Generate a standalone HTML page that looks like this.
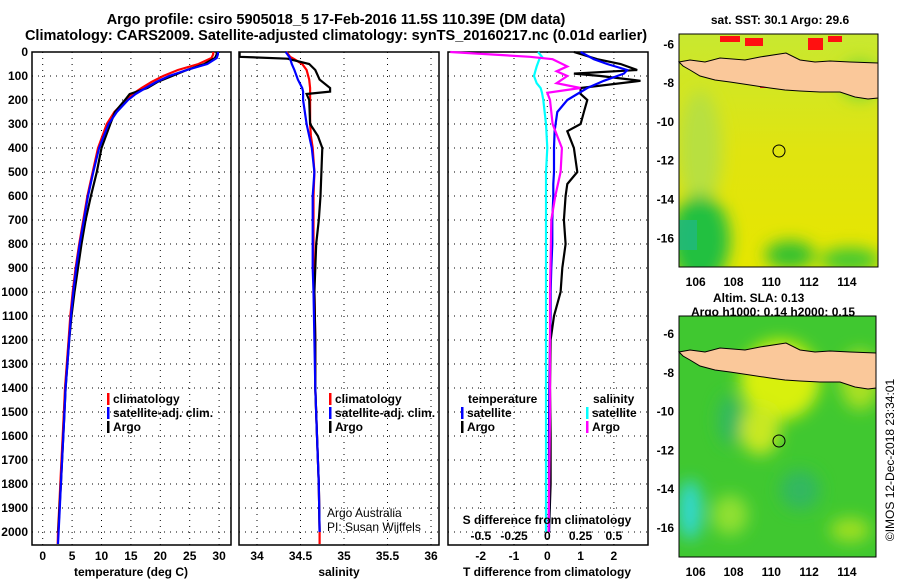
<!DOCTYPE html>
<html><head><meta charset="utf-8"><style>
body{margin:0;background:#fff}
svg{display:block}
text{font-family:"Liberation Sans",sans-serif}
.b{font-weight:bold;font-size:14.5px}
.t{font-weight:bold;font-size:12px}
</style></head><body>
<svg id="s" width="900" height="580" xmlns="http://www.w3.org/2000/svg">
<defs>
<linearGradient id="sstg" x1="0" y1="0" x2="0" y2="1">
<stop offset="0" stop-color="#c8e830"/><stop offset="0.5" stop-color="#e0e410"/><stop offset="1" stop-color="#e6e600"/>
</linearGradient>
<filter id="bl"><feGaussianBlur stdDeviation="8"/></filter>
<clipPath id="c1"><rect x="679" y="34" width="199" height="233"/></clipPath>
<clipPath id="c2"><rect x="679" y="316" width="197" height="241"/></clipPath>
</defs>
<text class="b" x="336" y="24" text-anchor="middle">Argo profile: csiro 5905018_5 17-Feb-2016 11.5S 110.39E (DM data)</text>
<text class="b" x="336" y="40" text-anchor="middle">Climatology: CARS2009. Satellite-adjusted climatology: synTS_20160217.nc (0.01d earlier)</text>

<g>
<text class="t" x="780" y="24" text-anchor="middle">sat. SST: 30.1 Argo: 29.6</text>
<g clip-path="url(#c1)">
<rect x="679" y="34" width="199" height="233" fill="url(#sstg)"/>
<g filter="url(#bl)">
<ellipse cx="700" cy="150" rx="22" ry="60" fill="#b8e040"/>
<ellipse cx="700" cy="240" rx="30" ry="45" fill="#20c040"/>
<ellipse cx="790" cy="255" rx="25" ry="14" fill="#30c030"/>
<ellipse cx="850" cy="260" rx="30" ry="12" fill="#40c830"/>
<ellipse cx="860" cy="80" rx="20" ry="20" fill="#80d830"/>
</g>
<rect x="679" y="220" width="18" height="30" fill="#20b880" opacity="0.8"/>
<rect x="720" y="36" width="20" height="6" fill="#ff1010"/>
<rect x="745" y="38" width="18" height="8" fill="#ff1010"/>
<rect x="808" y="38" width="15" height="12" fill="#ff1010"/>
<rect x="828" y="36" width="14" height="6" fill="#ff1010"/>
<rect x="760" y="80" width="15" height="8" fill="#ff1010"/>
</g>
<polygon points="679,62 690,60 705,62 720,58 745,60 760,57 786,53 800,60 815,62 830,61 850,62 878,63 878,98 868,99 855,97 840,92 820,92 800,91 785,90 770,88 750,85 730,82 715,80 700,76 690,70 683,66" fill="#fac89a" stroke="#000" stroke-width="1"/>
<circle cx="779" cy="151" r="6" fill="none" stroke="#000"/>
<rect x="679" y="34" width="199" height="233" fill="none" stroke="#000"/>
</g>
<text class="t" x="713" y="302">Altim. SLA: 0.13</text>
<text class="t" x="691" y="316">Argo h1000: 0.14 h2000: 0.15</text>

<g>
<g clip-path="url(#c2)">
<rect x="679" y="316" width="197" height="241" fill="#40c830"/>
<g filter="url(#bl)">
<ellipse cx="780" cy="380" rx="40" ry="40" fill="#d8f010"/>
<ellipse cx="760" cy="430" rx="20" ry="25" fill="#c8e820"/>
<ellipse cx="860" cy="380" rx="20" ry="30" fill="#a8e020"/>
<ellipse cx="690" cy="510" rx="12" ry="30" fill="#30d8d0"/>
<ellipse cx="730" cy="515" rx="18" ry="20" fill="#90e030"/>
<ellipse cx="850" cy="530" rx="20" ry="12" fill="#a0e020"/>
<ellipse cx="800" cy="490" rx="20" ry="20" fill="#30b860"/>
<ellipse cx="730" cy="420" rx="12" ry="25" fill="#30b860"/>
</g>
</g>
<polygon points="679,352 690,350 705,352 720,348 745,350 760,347 786,343 800,350 815,352 830,351 850,352 876,353 876,388 868,389 855,387 840,382 820,382 800,381 785,380 770,378 750,375 730,372 715,370 700,366 690,360 683,356" fill="#fac89a" stroke="#000" stroke-width="1"/>
<circle cx="779" cy="441" r="6" fill="none" stroke="#000"/>
<rect x="679" y="316" width="197" height="241" fill="none" stroke="#000"/>
</g>
<text x="894" y="460" font-size="12" text-anchor="middle" transform="rotate(-90 894 460)">©IMOS 12-Dec-2018 23:34:01</text>
<g id="g"></g>
</svg>
<script>
const depths=[0,10,25,50,75,100,125,150,175,200,250,300,400,500,600,700,800,900,1000,1100,1200,1300,1400,1500,1600,1700,1800,1900,2000,2050];
const tClim=[29.0,29.0,28.7,26.5,23,20.5,18.5,16.8,15.3,14.2,12.2,10.9,9.4,8.5,7.6,6.9,6.2,5.6,5.1,4.7,4.4,4.1,3.8,3.6,3.4,3.2,3.0,2.8,2.6,2.55];
const tSat=[29.8,29.8,29.6,28,24.5,21.5,19.3,17.5,15.8,14.5,12.6,11.2,9.6,8.6,7.7,7.0,6.3,5.7,5.2,4.8,4.5,4.2,3.9,3.7,3.5,3.3,3.1,2.9,2.7,2.6];
const tArgo=[29.6,29.6,29.3,27.5,24.5,22,19.5,17.8,14.8,14.0,12.3,11.5,10.0,9.2,8.2,7.3,6.6,6.0,5.4,4.9,4.5,4.2,3.9,3.7,3.5,3.3,3.1,2.85,2.65];
const sDepths=[0,20,28,50,75,115,150,165,175,200,300,350,400,500,600,700,800,900,1000,1200,1400,1600,1800,2000,2050];
const sClim=[34.34,34.38,34.42,34.52,34.57,34.6,34.61,34.61,34.61,34.61,34.61,34.62,34.64,34.66,34.65,34.65,34.65,34.65,34.66,34.67,34.67,34.69,34.71,34.72,34.72];
const sSat=[34.33,34.37,34.38,34.4,34.43,34.47,34.52,34.53,34.53,34.53,34.57,34.6,34.63,34.66,34.64,34.64,34.64,34.64,34.65,34.66,34.67,34.69,34.71,34.72];
const sArgo=[33.8,33.8,34.35,34.6,34.67,34.72,34.84,34.84,34.57,34.6,34.61,34.7,34.75,34.74,34.73,34.71,34.68,34.67,34.66,34.67,34.67,34.69,34.71,34.72];
const dDepths=[0,30,50,75,90,100,120,150,175,200,250,300,330,400,500,550,600,700,800,900,1000,1100,1200,1400,1600,1800,2000];
const tdArgo=[0.8,1.5,2.2,2.7,0.8,1.6,2.8,1.0,1.0,1.2,1.1,1.0,0.6,0.8,0.9,0.6,0.55,0.5,0.55,0.45,0.4,0.2,0.1,0.08,0.1,0.1,0.05];
const tdSat=[1.0,1.4,1.8,2.4,2.3,2.1,1.7,1.2,0.9,0.6,0.3,0.25,0.22,0.2,0.2,0.18,0.18,0.15,0.15,0.12,0.1,0.1,0.08,0.06,0.05,0.05,0.05];
const sdDepths=[0,20,30,60,80,100,130,150,170,200,300,400,500,600,700,1000,1500,2000];
const sdArgo=[-0.73,-0.13,0.04,0.15,0.07,0.15,0.07,0.25,0.0,0.02,0.04,0.11,0.10,0.06,0.03,0.02,0.02,0.01];
const sdSat=[-0.07,-0.04,-0.06,-0.08,-0.09,-0.1,-0.08,-0.05,-0.04,-0.03,-0.01,0.0,-0.01,-0.01,-0.01,-0.01,-0.01,-0.01];
const yTicks=[0,100,200,300,400,500,600,700,800,900,1000,1100,1200,1300,1400,1500,1600,1700,1800,1900,2000];
const tTicks=[0,5,10,15,20,25,30];
const sTicks=[34,34.5,35,35.5,36];
const tdTicks=[-2,-1,0,1,2];
const sdTicks=[-0.5,-0.25,0,0.25,0.5];
const mapLon=[106,108,110,112,114];
const mapLatTop=[-6,-8,-10,-12,-14,-16];

const NS='http://www.w3.org/2000/svg';
const G=document.getElementById('g');
function el(tag,a,txt){const e=document.createElementNS(NS,tag);for(const k in a)e.setAttribute(k,a[k]);if(txt!==undefined)e.textContent=txt;G.appendChild(e);return e;}
const Y=d=>52+d*0.24;
const TOP=52,BOT=545;
const xT=v=>42.7+5.88*v;
const xS=v=>257+87*(v-34);
const xTD=v=>547.3+33.3*v;
const xSD=v=>547.3+133*v;
const panels=[[32,231],[239,439],[448,648]];

function frame(p,name){
  const [l,r]=panels[p];
  for(const d of yTicks){
    const g=el('line',{x1:l,x2:r,y1:Y(d),y2:Y(d),stroke:'#000','stroke-dasharray':'1,5','stroke-width':1});
    
    
  }
  const f=el('rect',{x:l,y:TOP,width:r-l,height:BOT-TOP,fill:'none',stroke:'#000','stroke-width':1.5});
  
  
}
function vgrid(ticks,fx){for(const t of ticks){const g=el('line',{x1:fx(t),x2:fx(t),y1:TOP,y2:BOT,stroke:'#000','stroke-dasharray':'1,5'});}}
function xlabels(ticks,fx,y,name){for(const t of ticks){const e=el('text',{x:fx(t),y:y,'text-anchor':'middle',class:'t'},String(t));}}
function line(dep,vals,fx,col,name,w){
  const n=Math.min(dep.length,vals.length);
  let pts=[];for(let i=0;i<n;i++)pts.push(fx(vals[i]).toFixed(1)+','+Y(dep[i]).toFixed(1));
  const e=el('polyline',{points:pts.join(' '),fill:'none',stroke:col,'stroke-width':w||2.2});
  
  
}
function leg(x,y,col,txt,name){
  const b=el('rect',{x:x,y:y-10,width:2.5,height:12,fill:col});
  
  
  const t=el('text',{x:x+6,y:y,class:'t'},txt);
  
  
}
frame(0,'temperature-panel');vgrid(tTicks,xT);
for(const d of yTicks){const e=el('text',{x:28,y:Y(d)+4,'text-anchor':'end',class:'t'},d);}
line(depths,tClim,xT,'#ff0000','temp-climatology-line');
line(depths,tArgo,xT,'#000000','temp-argo-line');
line(depths,tSat,xT,'#0000ff','temp-satellite-line');
xlabels(tTicks,xT,560,'temp-tick-label');
let e=el('text',{x:131,y:576,'text-anchor':'middle',class:'t'},'temperature (deg C)');
leg(107,403,'#ff0000','climatology','legend-climatology');
leg(107,417,'#0000ff','satellite-adj. clim.','legend-satellite');
leg(107,431,'#000','Argo','legend-argo');
frame(1,'salinity-panel');vgrid(sTicks,xS);
line(sDepths,sClim,xS,'#ff0000','sal-climatology-line');
line(sDepths,sArgo,xS,'#000000','sal-argo-line');
line(sDepths,sSat,xS,'#0000ff','sal-satellite-line');
xlabels(sTicks,xS,560,'sal-tick-label');
e=el('text',{x:339,y:576,'text-anchor':'middle',class:'t'},'salinity');
leg(329,403,'#ff0000','climatology','legend-climatology-2');
leg(329,417,'#0000ff','satellite-adj. clim.','legend-satellite-2');
leg(329,431,'#000','Argo','legend-argo-2');
e=el('text',{x:327,y:517,'font-size':12},'Argo Australia');
e=el('text',{x:327,y:531,'font-size':12},'PI: Susan Wijffels');
frame(2,'difference-panel');vgrid(tdTicks,xTD);
line(dDepths,tdArgo,xTD,'#000000','tdiff-argo-line');
line(dDepths,tdSat,xTD,'#0000ff','tdiff-satellite-line');
line(sdDepths,sdSat,xSD,'#00ffff','sdiff-satellite-line');
line(sdDepths,sdArgo,xSD,'#ff00ff','sdiff-argo-line');
xlabels(tdTicks,xTD,560,'tdiff-tick-label');
xlabels(sdTicks,xSD,540,'sdiff-tick-label');
e=el('text',{x:547,y:576,'text-anchor':'middle',class:'t'},'T difference from climatology');
e=el('text',{x:547,y:524,'text-anchor':'middle',class:'t'},'S difference from climatology');
e=el('text',{x:468,y:403,class:'t'},'temperature');
e=el('text',{x:593,y:403,class:'t'},'salinity');
leg(461,417,'#0000ff','satellite','legend-t-satellite');
leg(461,431,'#000','Argo','legend-t-argo');
leg(586,417,'#00ffff','satellite','legend-s-satellite');
leg(586,431,'#ff00ff','Argo','legend-s-argo');
const lonX=v=>695.7+18.9*(v-106);
const latTop=v=>44.3+19.4*(-6-v);
const latBot=v=>334+19.4*(-6-v);
for(const lo of mapLon){
  e=el('text',{x:lonX(lo),y:286,'text-anchor':'middle',class:'t'},lo);
  e=el('text',{x:lonX(lo),y:576,'text-anchor':'middle',class:'t'},lo);
}
for(const la of mapLatTop){
  e=el('text',{x:674,y:latTop(la)+4,'text-anchor':'end',class:'t'},la);
  e=el('text',{x:674,y:latBot(la)+4,'text-anchor':'end',class:'t'},la);
}
</script>
</body></html>
